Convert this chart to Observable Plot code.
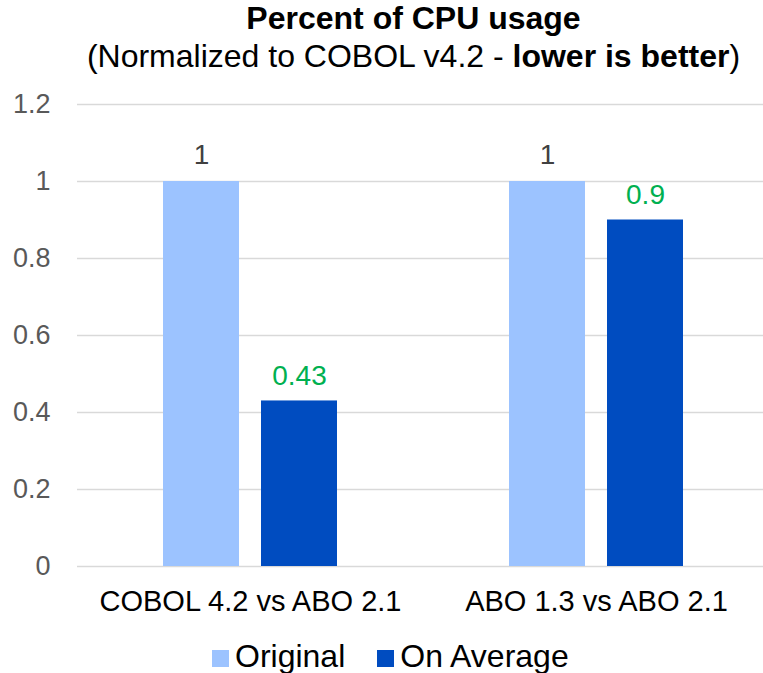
<!DOCTYPE html>
<html>
<head>
<meta charset="utf-8">
<script src="https://cdn.jsdelivr.net/npm/d3@7"></script>
<script src="https://cdn.jsdelivr.net/npm/@observablehq/plot@0.6"></script>
<style>
  html, body { margin: 0; padding: 0; background: #fff; }
  #wrap { position: relative; width: 763px; height: 673px; font-family: "Liberation Sans", Arial, sans-serif; overflow: hidden; }
  .title { position: absolute; left: 64px; right: 0; text-align: center; white-space: nowrap; color: #000; }
  #t1 { top: 0px; font-size: 32px; line-height: 36px; font-weight: bold; }
  #t2 { top: 40px; font-size: 32px; line-height: 32px; }
  #chart { position: absolute; left: 0; top: 80px; width: 769px; }
  #chart svg { max-width: none !important; }
  #legend { position: absolute; left: 212px; top: 640px; font-size: 32px; line-height: 32px; white-space: nowrap; color: #000; }
  .sw { display: inline-block; width: 17px; height: 17px; vertical-align: baseline; margin-right: 6px; }
  .item2 { margin-left: 32px; }
</style>
</head>
<body>
<div id="wrap">
  <div class="title" id="t1">Percent of CPU usage</div>
  <div class="title" id="t2">(Normalized to COBOL v4.2 - <b>lower is better</b>)</div>
  <div id="chart"></div>
  <div id="legend"></div>
</div>
<script>
const categories = ["COBOL 4.2 vs ABO 2.1", "ABO 1.3 vs ABO 2.1"];
const series = ["Original", "On Average"];
const originalValues = [1, 1];
const averageValues = [0.43, 0.9];
const yTicks = [0, 0.2, 0.4, 0.6, 0.8, 1, 1.2];
const seriesColors = ["#9CC3FF", "#004CC0"];
const labelColors = ["#404040", "#00B050"];

const data = categories.flatMap((c, i) => [
  {category: c, series: series[0], value: originalValues[i]},
  {category: c, series: series[1], value: averageValues[i]}
]);

const chart = Plot.plot({
  width: 769,
  height: 550,
  marginLeft: 77,
  marginRight: 0,
  marginTop: 24,
  marginBottom: 64,
  style: {fontFamily: "'Liberation Sans', Arial, sans-serif", background: "#fff", maxWidth: "none"},
  fx: {domain: categories, paddingInner: 0, paddingOuter: 0, label: null},
  x: {domain: series, paddingInner: 0.222, paddingOuter: 0.859, axis: null},
  y: {domain: [0, 1.2], axis: null},
  color: {domain: series, range: seriesColors},
  marks: [
    Plot.gridY(yTicks, {stroke: "#d9d9d9", strokeOpacity: 1, strokeWidth: 1.5}),
    Plot.axisY(yTicks, {tickSize: 0, tickPadding: 27, fontSize: 27, color: "#595959", tickFormat: d => String(d), label: null}),
    Plot.barY(data, {fx: "category", x: "series", y: "value", fill: "series"}),
    Plot.text(data.filter(d => d.series === series[0]), {fx: "category", x: "series", y: "value", text: d => String(d.value), fill: labelColors[0], lineAnchor: "bottom", dy: -18, fontSize: 28}),
    Plot.text(data.filter(d => d.series === series[1]), {fx: "category", x: "series", y: "value", text: d => String(d.value), fill: labelColors[1], lineAnchor: "bottom", dy: -16, fontSize: 28}),
    Plot.axisFx({anchor: "bottom", tickSize: 0, tickPadding: 24, fontSize: 29, color: "#000", label: null})
  ]
});
document.getElementById("chart").appendChild(chart);

const legend = document.getElementById("legend");
series.forEach((s, i) => {
  const span = document.createElement("span");
  if (i > 0) span.className = "item2";
  const sw = document.createElement("span");
  sw.className = "sw";
  sw.style.background = seriesColors[i];
  span.appendChild(sw);
  span.appendChild(document.createTextNode(s));
  legend.appendChild(span);
});
</script>
</body>
</html>
